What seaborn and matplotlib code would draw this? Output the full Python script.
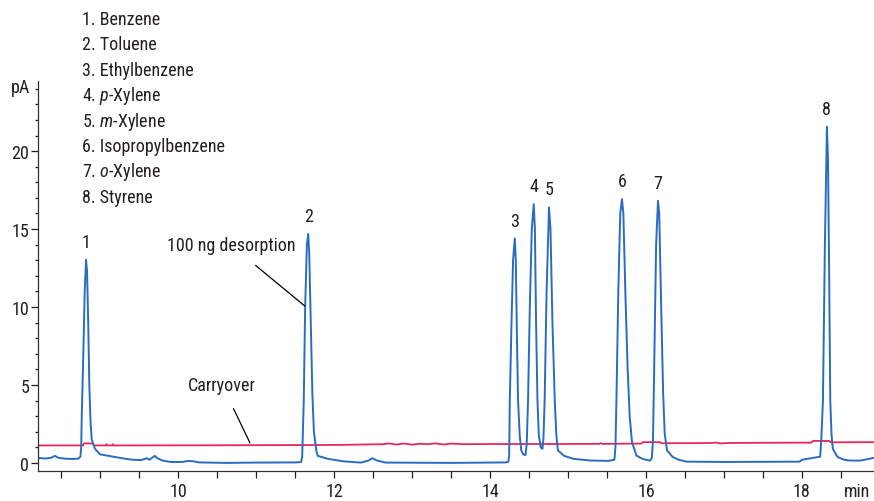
import numpy as np
import pandas as pd
import matplotlib
matplotlib.use("Agg")
import matplotlib.pyplot as plt
import seaborn as sns
from matplotlib.ticker import MultipleLocator

# chromatogram, 100 ng desorption (time in min, signal in pA)
desorb_t = [8.197, 8.30, 8.37, 8.42, 8.46, 8.55, 8.66, 8.72, 8.745, 8.755, 8.762, 8.78, 8.80, 8.817, 8.83, 8.845, 8.859, 8.875, 8.89, 8.932, 8.996, 9.163, 9.30, 9.42, 9.52, 9.57, 9.60, 9.63, 9.67, 9.70, 9.73, 9.80, 9.90, 10.05, 10.12, 10.20, 10.27, 10.60, 11.00, 11.50,
            11.575, 11.59, 11.61, 11.628, 11.65, 11.667, 11.68, 11.70, 11.72, 11.74, 11.774, 11.79, 11.92, 12.12, 12.34, 12.44, 12.49, 12.55, 12.66, 13.50, 14.20,
            14.235, 14.245, 14.253, 14.275, 14.295, 14.317, 14.33, 14.345, 14.359, 14.38, 14.40, 14.425, 14.454, 14.47, 14.487, 14.51, 14.535, 14.56, 14.575, 14.59, 14.608, 14.625, 14.65, 14.672, 14.685, 14.70, 14.725, 14.756, 14.775, 14.80, 14.83, 14.85, 14.87, 14.95, 15.07, 15.29, 15.52,
            15.595, 15.608, 15.621, 15.645, 15.67, 15.692, 15.71, 15.735, 15.765, 15.791, 15.82, 15.877, 15.96, 16.05, 16.075, 16.09, 16.105, 16.13, 16.154, 16.17, 16.195, 16.22, 16.24, 16.27, 16.342, 16.42, 16.52, 17.00, 17.50, 17.97, 18.00, 18.12,
            18.235, 18.249, 18.27, 18.295, 18.321, 18.335, 18.35, 18.364, 18.38, 18.397, 18.457, 18.53, 18.61, 18.75, 18.85, 18.92]
desorb_pa = [0.32, 0.28, 0.33, 0.45, 0.33, 0.27, 0.25, 0.28, 0.4, 1.0, 3.0, 6.5, 11.0, 13.03, 12.3, 9.0, 5.0, 2.6, 1.5, 0.9, 0.55, 0.4, 0.28, 0.2, 0.18, 0.25, 0.3, 0.2, 0.35, 0.45, 0.3, 0.15, 0.06, 0.06, 0.12, 0.10, 0.03, 0.0, 0.02, 0.03,
             0.05, 0.4, 4.0, 10.0, 14.0, 14.68, 13.5, 9.0, 4.5, 2.0, 0.7, 0.45, 0.26, 0.1, 0.02, 0.15, 0.3, 0.15, 0.02, 0.0, 0.03,
             0.08, 0.5, 4.0, 9.0, 13.0, 14.40, 13.0, 8.0, 4.0, 1.8, 0.8, 0.55, 0.5, 1.2, 4.0, 10.0, 15.0, 16.6, 15.0, 9.0, 4.0, 1.8, 1.0, 0.9, 1.6, 4.0, 11.0, 16.39, 15.0, 9.0, 4.0, 1.8, 0.8, 0.45, 0.26, 0.15, 0.13,
             0.2, 1.0, 4.0, 11.0, 16.0, 16.92, 16.0, 11.0, 6.0, 3.0, 1.35, 0.47, 0.25, 0.15, 0.3, 1.5, 6.0, 14.0, 16.81, 16.0, 10.0, 4.5, 1.9, 0.8, 0.38, 0.2, 0.08, 0.06, 0.07, 0.08, 0.2, 0.3,
             0.4, 1.5, 4.0, 14.0, 21.56, 19.5, 12.0, 4.0, 1.8, 0.9, 0.38, 0.22, 0.15, 0.15, 0.25, 0.32]

# carryover blank run
carry_t = [8.197, 8.78, 8.79, 8.90, 8.92, 9.07, 9.08, 9.09, 9.15, 9.16, 9.17, 10.50, 12.00, 12.63, 12.70, 12.80, 12.90, 13.00, 13.10, 13.20, 13.30, 13.40, 13.50, 13.66, 14.00, 14.50, 15.40, 15.42, 15.44, 15.94, 15.96, 16.18, 16.20, 16.80, 16.90, 16.95, 17.10, 17.50, 18.12, 18.14, 18.35, 18.37, 18.92]
carry_pa = [1.12, 1.12, 1.25, 1.25, 1.12, 1.12, 1.2, 1.12, 1.12, 1.2, 1.12, 1.13, 1.15, 1.2, 1.25, 1.18, 1.24, 1.17, 1.23, 1.2, 1.25, 1.18, 1.24, 1.2, 1.21, 1.21, 1.22, 1.27, 1.22, 1.24, 1.33, 1.33, 1.26, 1.27, 1.3, 1.25, 1.28, 1.29, 1.3, 1.41, 1.41, 1.32, 1.33]

peak_no = ["1", "2", "3", "4", "5", "6", "7", "8"]
peak_rt = [8.817, 11.667, 14.31, 14.56, 14.756, 15.692, 16.154, 18.321]
peak_h = [13.03, 14.68, 14.40, 16.6, 16.39, 16.92, 16.81, 21.56]
compounds = ["Benzene", "Toluene", "Ethylbenzene", r"$\mathit{p}$-Xylene", r"$\mathit{m}$-Xylene",
             "Isopropylbenzene", r"$\mathit{o}$-Xylene", "Styrene"]

sns.set_style("ticks")
fam = "Roboto Condensed"
plt.rcParams["font.family"] = [fam, "IBM Plex Sans Condensed", "DejaVu Sans"]
plt.rcParams["mathtext.fontset"] = "custom"
plt.rcParams["mathtext.rm"] = fam
plt.rcParams["mathtext.it"] = fam + ":italic"
plt.rcParams["text.color"] = "#231f20"
plt.rcParams["xtick.color"] = "#231f20"
plt.rcParams["ytick.color"] = "#231f20"

blue = "#2a6cc0"
red = "#e8265e"
fs = 13

fig = plt.figure(figsize=(8.74, 5.02), dpi=100)
ax = fig.add_axes([37.7 / 874, 30 / 502, 1 - 37.7 / 874, 390 / 502])

df_d = pd.DataFrame({"t": desorb_t, "pA": desorb_pa})
df_c = pd.DataFrame({"t": carry_t, "pA": carry_pa})
sns.lineplot(data=df_c, x="t", y="pA", ax=ax, color=red, lw=1.3, estimator=None, sort=False)
sns.lineplot(data=df_d, x="t", y="pA", ax=ax, color=blue, lw=1.4, estimator=None, sort=False)

ax.set_xlim(8.197, 18.925)
ax.set_ylim(-0.52, 24.5)
ax.xaxis.set_major_locator(MultipleLocator(2))
ax.xaxis.set_minor_locator(MultipleLocator(0.5))
ax.yaxis.set_major_locator(MultipleLocator(5))
ax.yaxis.set_minor_locator(MultipleLocator(1))
ax.tick_params(axis="x", which="both", length=5, width=0.9, pad=3, labelsize=fs)
ax.tick_params(axis="y", which="major", length=5, width=0.9, pad=1, labelsize=fs)
ax.tick_params(axis="y", which="minor", length=2.2, width=0.9)
ax.set_xlabel("")
ax.set_ylabel("")
sns.despine(ax=ax)
for s in ["left", "bottom"]:
    ax.spines[s].set_linewidth(0.9)
    ax.spines[s].set_color("#333333")

fig.text(21 / 874, 1 - 88 / 502, "pA", ha="center", va="center", fontsize=fs)
fig.text(857 / 874, 1 - 492 / 502, "min", ha="center", va="center", fontsize=fs)

for n, rt, h in zip(peak_no, peak_rt, peak_h):
    ax.text(rt, h + 1.15, n, ha="center", va="center", fontsize=fs)

# legend list top left
for i, name in enumerate(compounds):
    fig.text(82 / 874, 1 - (20 + 25.4 * i) / 502, f"{i + 1}. {name}", ha="left", va="center", fontsize=fs)

ax.annotate("100 ng desorption", xy=(11.624, 10.06), xytext=(10.678, 13.97),
            ha="center", va="center", fontsize=fs,
            arrowprops=dict(arrowstyle="-", color="black", lw=0.9, shrinkA=9, shrinkB=0))
ax.annotate("Carryover", xy=(10.92, 1.28), xytext=(10.563, 5.0),
            ha="center", va="center", fontsize=fs,
            arrowprops=dict(arrowstyle="-", color="black", lw=0.9, shrinkA=9, shrinkB=0))

fig.savefig("out.png", dpi=100)
